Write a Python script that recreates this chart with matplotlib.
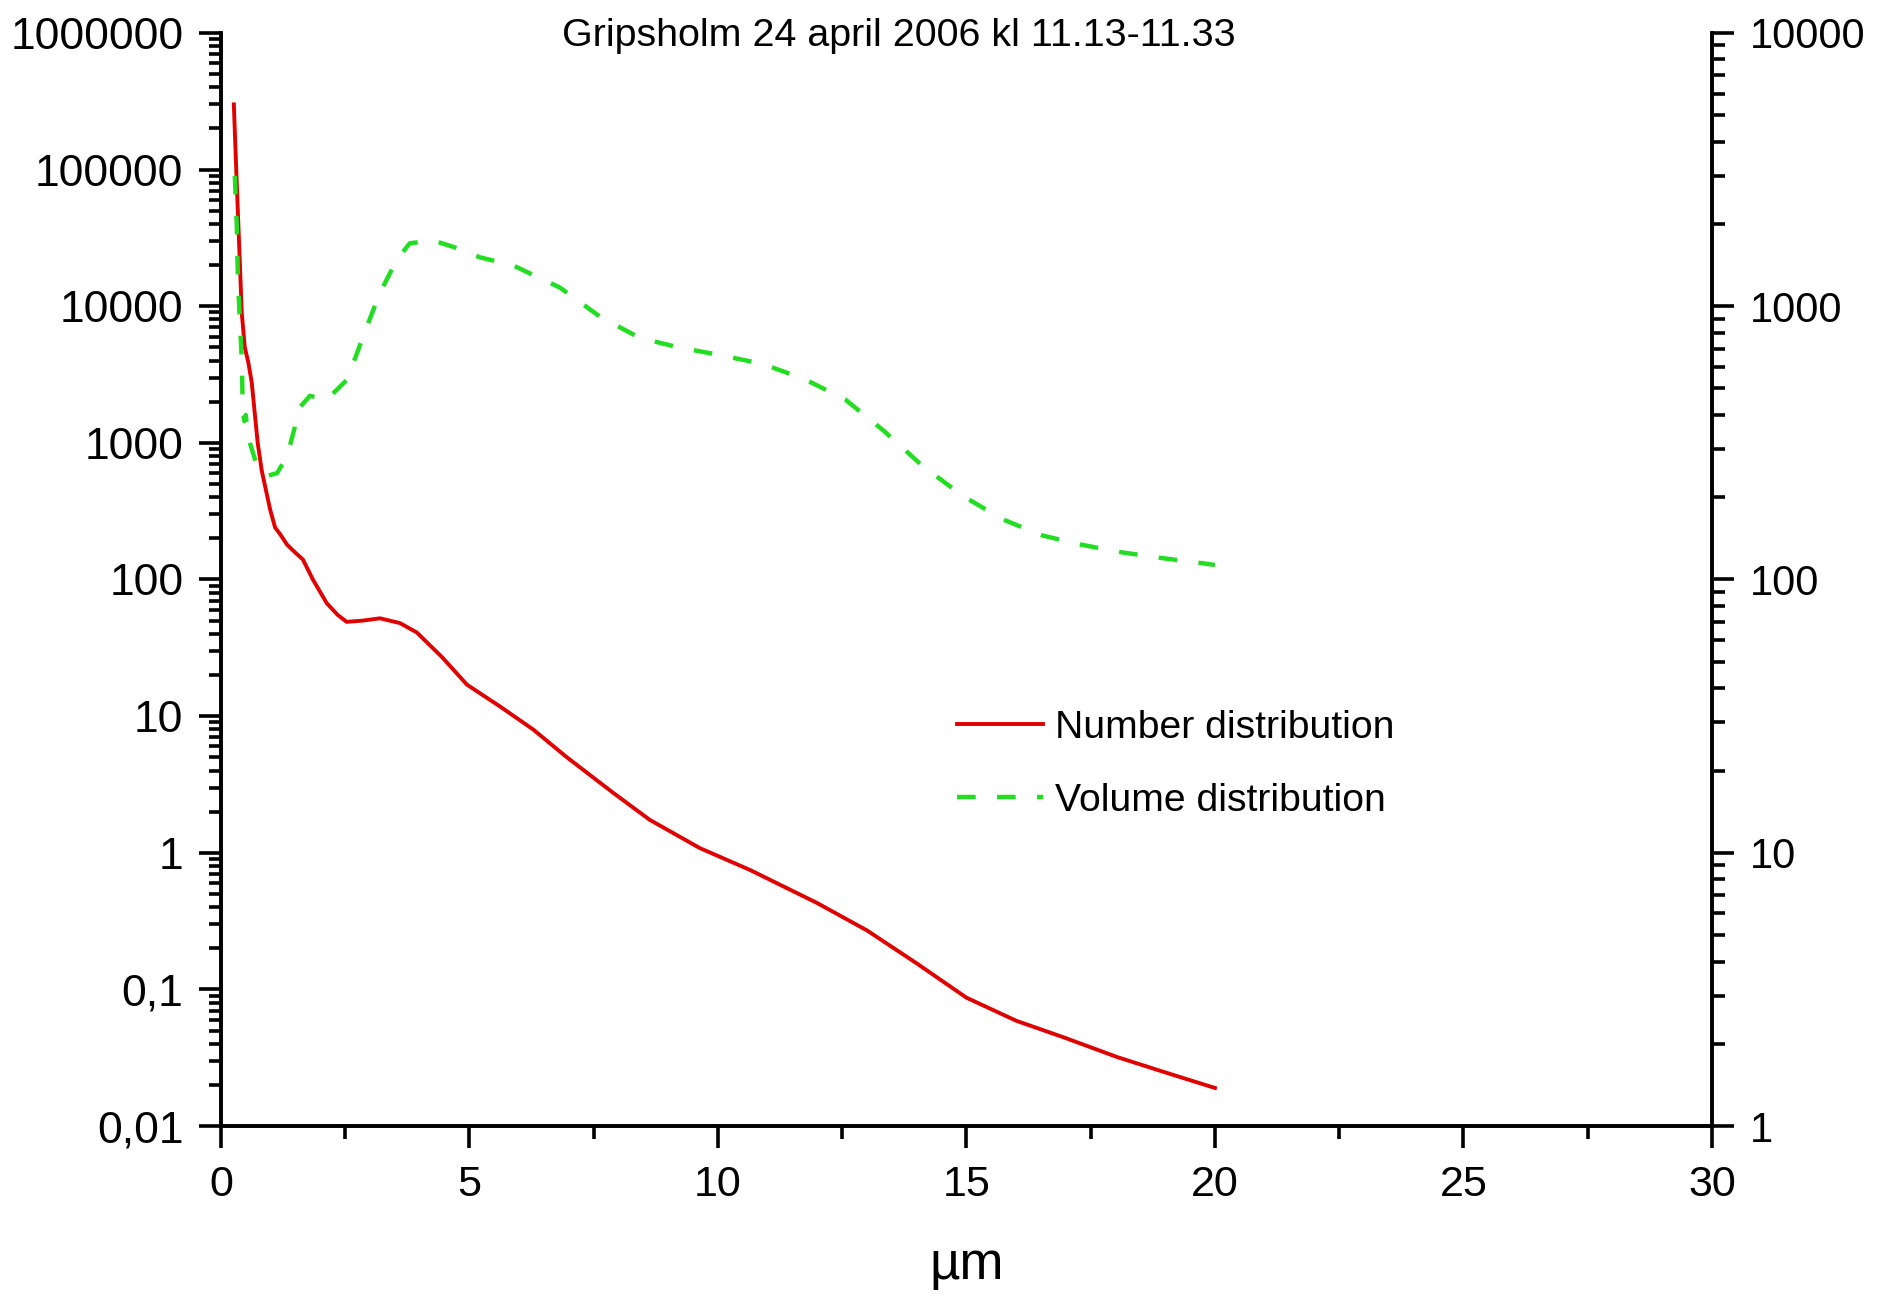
import matplotlib
matplotlib.use("Agg")
import matplotlib.pyplot as plt
from matplotlib.ticker import LogLocator, FuncFormatter, MultipleLocator, NullFormatter

plt.rcParams['font.family'] = ['Liberation Sans', 'DejaVu Sans']

title = "Gripsholm 24 april 2006 kl 11.13-11.33"
x_label = "µm"

# number distribution (left axis)
num_x = [0.26, 0.30, 0.34, 0.42, 0.48, 0.55, 0.62, 0.68, 0.74, 0.82, 0.99, 1.09,
         1.19, 1.33, 1.49, 1.65, 1.85, 2.13, 2.35, 2.53, 2.85, 3.2, 3.6, 3.94,
         4.45, 4.95, 5.61, 6.28, 6.96, 7.89, 8.63, 9.64, 10.64, 11.99, 13.0,
         14.0, 15.0, 16.0, 17.0, 18.03, 19.03, 20.0]
num_y = [3.0e5, 1.2e5, 5e4, 8.9e3, 5000, 3900, 2770, 1660, 1000, 630, 325, 240,
         215, 180, 158, 140, 100, 67, 55, 49, 50, 52, 48, 41,
         27, 17, 11.8, 8, 5, 2.75, 1.74, 1.08, 0.75, 0.43, 0.27,
         0.155, 0.087, 0.059, 0.044, 0.032, 0.0245, 0.019]

# volume distribution (right axis)
vol_x = [0.28, 0.32, 0.34, 0.38, 0.42, 0.44, 0.47, 0.5, 0.55, 0.74, 0.95, 1.13,
         1.33, 1.49, 1.59, 1.79, 2.13, 2.53, 2.66, 2.93, 3.2, 3.54, 3.8, 4.27,
         4.67, 5.21, 5.88, 6.82, 7.63, 8.43, 9.24, 10.0, 10.9, 11.75, 12.56,
         13.32, 14.12, 14.93, 15.73, 16.52, 17.32, 18.09, 18.9, 19.7, 20.0]
vol_y = [3000, 1950, 1290, 890, 635, 416, 380, 400, 330, 256, 240, 245,
         282, 363, 427, 470, 455, 537, 617, 836, 1120, 1480, 1700, 1740,
         1650, 1510, 1410, 1170, 915, 765, 705, 665, 615, 540, 456,
         352, 260, 202, 166, 145, 134, 126, 120, 115, 113]

labels = ["Number distribution", "Volume distribution"]


def comma_fmt(v, pos):
    s = ("%g" % v) if v < 1 else "%d" % round(v)
    return s.replace(".", ",")


fig = plt.figure(figsize=(18.77, 12.97), dpi=100)
ax = fig.add_axes([0.1177, 0.1318, 0.7944, 0.8428])
ax2 = ax.twinx()

l1, = ax.plot(num_x, num_y, color="#e00000", lw=2.8)
l2, = ax2.plot(vol_x, vol_y, color="#22dd22", lw=3.2, dashes=(4.2, 4.8))

ax.set_xlim(0, 30)
ax.set_yscale("log")
ax.set_ylim(0.01, 1e6)
ax2.set_yscale("log")
ax2.set_ylim(1, 1e4)

ax.xaxis.set_major_locator(MultipleLocator(5))
ax.xaxis.set_minor_locator(MultipleLocator(2.5))
for a in (ax, ax2):
    a.yaxis.set_major_locator(LogLocator(base=10, numticks=20))
    a.yaxis.set_minor_locator(LogLocator(base=10, subs=range(2, 10), numticks=20))
    a.yaxis.set_minor_formatter(NullFormatter())
    a.yaxis.set_major_formatter(FuncFormatter(comma_fmt))
    a.spines["top"].set_visible(False)
    for sp in a.spines.values():
        sp.set_linewidth(2.6)

ax.tick_params(axis="both", which="major", direction="out", length=16, width=2.6)
ax.tick_params(axis="both", which="minor", direction="out", length=9, width=2.6)
ax.tick_params(axis="y", labelsize=32, pad=11)
ax.tick_params(axis="x", labelsize=31, pad=12)
ax2.tick_params(axis="y", which="major", direction="out", length=16, width=2.6,
                labelsize=30, pad=11)
ax2.tick_params(axis="y", which="minor", direction="out", length=9, width=2.6)

ax.set_xlabel(x_label, fontsize=38, labelpad=25)
fig.text(0.479, 0.972, title, fontsize=28.4, ha="center", va="center")

ax.legend([l1, l2], labels, loc="center left", bbox_to_anchor=(0.47, 0.331),
          frameon=False, fontsize=28.2, handlelength=2.2, handletextpad=0.3,
          labelspacing=0.95)

fig.savefig("out.png", dpi=100)
